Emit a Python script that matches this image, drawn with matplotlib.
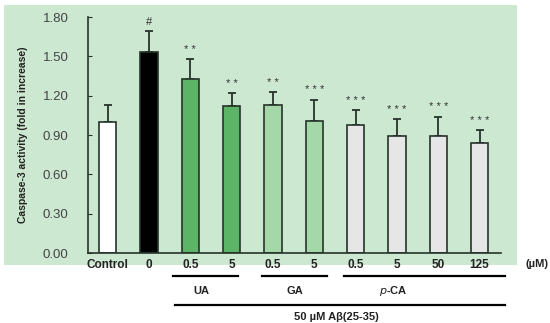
import matplotlib.pyplot as plt
import numpy as np
from matplotlib.transforms import blended_transform_factory

plt.rcParams['font.family'] = ['Liberation Sans', 'DejaVu Sans']

labels = ['Control', '0', '0.5', '5', '0.5', '5', '0.5', '5', '50', '125']
values = [1.00, 1.53, 1.33, 1.12, 1.13, 1.01, 0.98, 0.89, 0.89, 0.84]
errors = [0.13, 0.16, 0.15, 0.10, 0.10, 0.16, 0.11, 0.13, 0.15, 0.10]
marks = ['', '#', '**', '**', '**', '***', '***', '***', '***', '***']
colors = ['white', 'black', '#5cb466', '#5cb466', '#a5d8a8', '#a5d8a8',
          '#e6e6e6', '#e6e6e6', '#e6e6e6', '#e6e6e6']
groups = ['UA', 'GA', r'$\it{p}$-CA']

fig = plt.figure(figsize=(5.5, 3.23), dpi=100)
W, H = 550, 323

# green panel behind the plot
bg = fig.add_axes([4 / W, 1 - 265 / H, 513 / W, 260 / H], zorder=-1)
bg.set_facecolor('#cde8d1')
bg.set_xticks([])
bg.set_yticks([])
for s in bg.spines.values():
    s.set_visible(False)

ax = fig.add_axes([88 / W, 1 - 253 / H, 413 / W, 236 / H])
ax.set_facecolor('none')
x = np.arange(len(values))
ax.bar(x, values, width=0.42, color=colors, edgecolor='#26332a', linewidth=1.2,
       zorder=2)
ax.errorbar(x, values, yerr=[np.zeros(len(errors)), errors], fmt='none',
            ecolor='#26332a', elinewidth=1.3, capsize=3, capthick=1.3, zorder=1)
for xi, v, e, m in zip(x, values, errors, marks):
    ax.annotate(' '.join(m) if m != '#' else m, (xi, v + e), xytext=(0, 3),
                textcoords='offset points', ha='center', va='bottom',
                fontsize=8, color='#333333')

ax.set_xlim(-0.48, 9.52)
ax.set_ylim(0, 1.8)
ax.set_yticks(np.arange(0, 1.81, 0.3))
ax.set_yticklabels(['%.2f' % t for t in np.arange(0, 1.81, 0.3)],
                   fontsize=9.5, color='#444444')
ax.set_xticks(x)
ax.set_xticklabels(labels, fontsize=8.5, fontweight='bold', color='#222222')
ax.tick_params(axis='y', direction='in', length=3, pad=14, color='#26332a')
ax.tick_params(axis='x', length=0, pad=4)
for s in ['top', 'right']:
    ax.spines[s].set_visible(False)
for s in ['left', 'bottom']:
    ax.spines[s].set_color('#26332a')
    ax.spines[s].set_linewidth(1.2)
ax.set_ylabel('Caspase-3 activity (fold in increase)', fontsize=7.5,
              fontweight='bold', color='#222222')
ax.yaxis.set_label_coords(-0.145, 0.5)

fig.text(537 / W, 1 - 264 / H, '(µM)', fontsize=8, fontweight='bold',
         ha='center', va='center', color='#222222')

tr = blended_transform_factory(ax.transData, fig.transFigure)
spans = [(1.58, 3.15), (3.73, 5.3), (5.72, 9.62)]
centers = [2.27, 4.53, 6.9]
for (a, b), c, g in zip(spans, centers, groups):
    ax.plot([a, b], [1 - 276 / H] * 2, color='black', lw=1.6, transform=tr,
            clip_on=False)
    ax.text(c, 1 - 291 / H, g, transform=tr, ha='center', va='center',
            fontsize=8, fontweight='bold', color='#222222')
ax.plot([1.62, 9.62], [1 - 305 / H] * 2, color='black', lw=1.6, transform=tr,
        clip_on=False)
ax.text(5.54, 1 - 317 / H, '50 µM Aβ(25-35)', transform=tr, ha='center',
        va='center', fontsize=8, fontweight='bold', color='#222222')

fig.savefig('out.png', dpi=100)
